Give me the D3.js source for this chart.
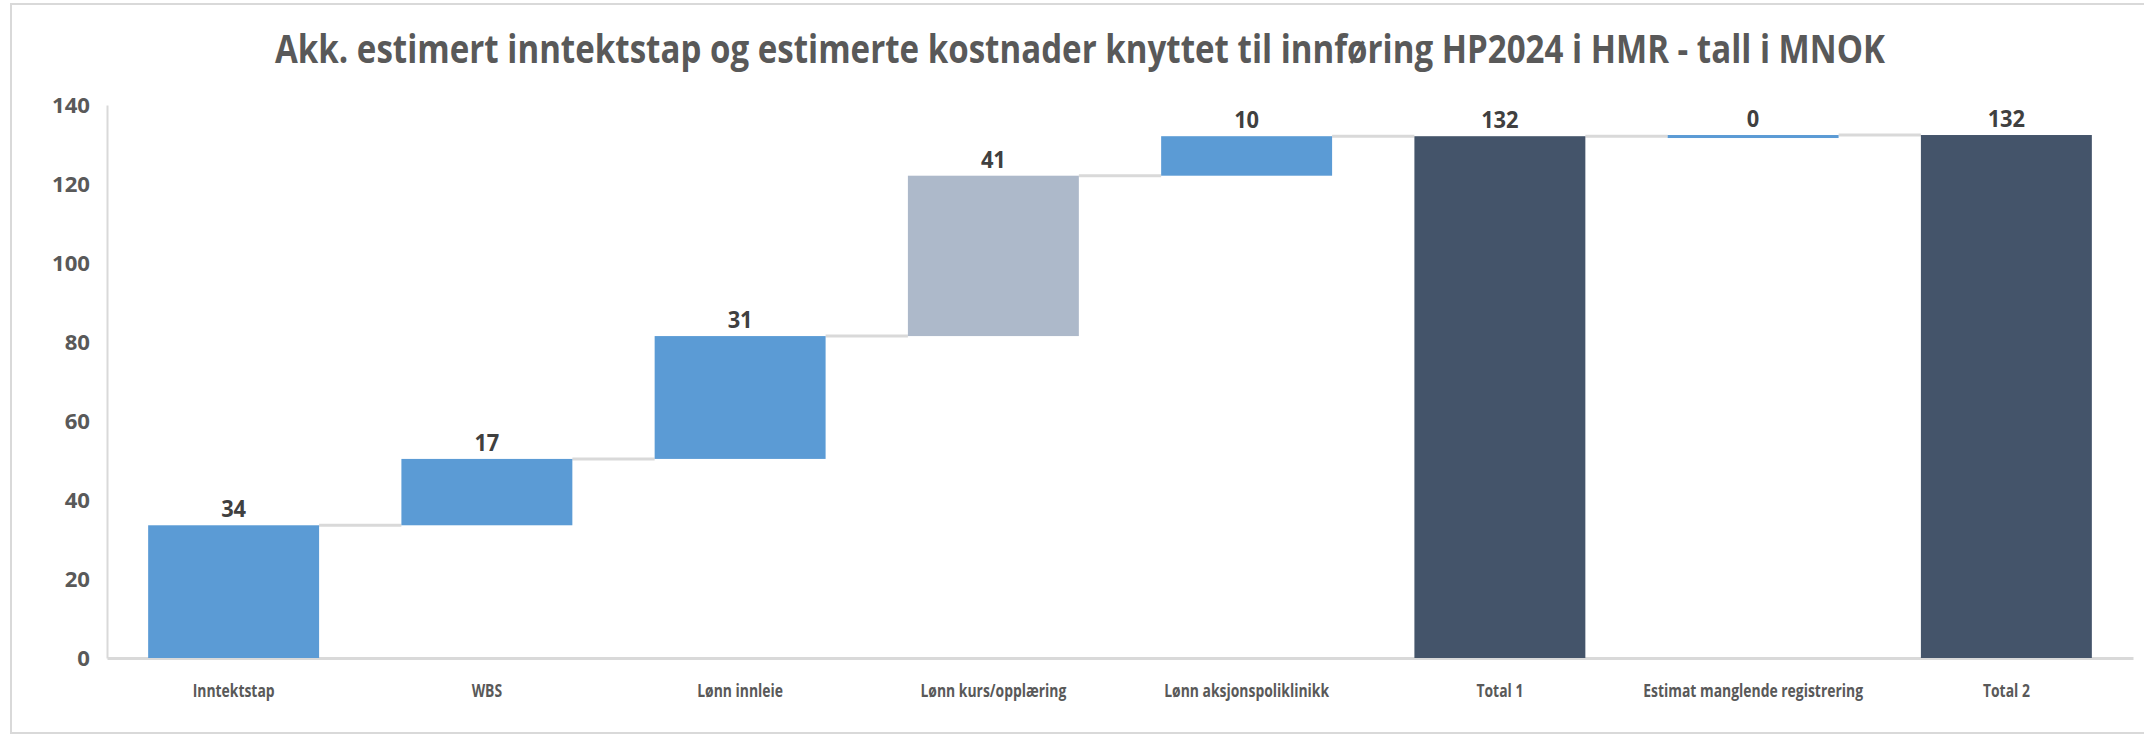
<html>
<head>
<meta charset="utf-8">
<script src="https://cdn.jsdelivr.net/npm/d3@7"></script>
<style>
  body { margin: 0; background: #fff; font-family: "Open Sans", sans-serif; }
  svg { display: block; }
</style>
</head>
<body>
<svg id="chart"></svg>
<script>
// data (MNOK)
let categories = ["Inntektstap", "WBS", "Lønn innleie", "Lønn kurs/opplæring",
                  "Lønn aksjonspoliklinikk", "Total 1", "Estimat manglende registrering", "Total 2"]
let values = [33.6, 16.8, 31.1, 40.6, 10.0, 132.1, 0.3, 132.4]
// step = floating bar, total = bar from zero
let kinds = ["step", "step", "step", "step", "step", "total", "step", "total"]
let colors = ["#5B9BD5", "#5B9BD5", "#5B9BD5", "#ADB9CA", "#5B9BD5", "#44546A", "#5B9BD5", "#44546A"]
let yTicks = [0, 20, 40, 60, 80, 100, 120, 140]
let title = "Akk. estimert inntektstap og estimerte kostnader knyttet til innføring HP2024 i HMR - tall i MNOK"

let width = 2144, height = 735
let margin = { top: 105, bottom: 77, left: 107, right: 11 }

let svg = d3.select("#chart").attr("width", width).attr("height", height)

// outer chart border
svg.append("rect")
  .attr("x", 11).attr("y", 4)
  .attr("width", width + 20).attr("height", 729)
  .attr("fill", "none").attr("stroke", "#D9D9D9").attr("stroke-width", 2)

// build waterfall rows
let running = 0
let rows = categories.map((c, i) => {
  let v = values[i]
  let base, end
  if (kinds[i] == "total") { base = 0; end = v; running = v }
  else { base = running; end = running + v; running = end }
  return { name: c, value: v, base: base, end: end, color: colors[i] }
})

let x = d3.scaleBand()
  .domain(categories)
  .range([margin.left, width - margin.right])
  .paddingInner(0.325)
  .paddingOuter(0.1625)

let y = d3.scaleLinear()
  .domain([0, 140])
  .range([height - margin.bottom, margin.top])

// squeeze text horizontally so it looks like the narrow original font
function squeeze(sel, factor) {
  sel.each(function() {
    let len = this.getComputedTextLength()
    d3.select(this).attr("textLength", len * factor).attr("lengthAdjust", "spacingAndGlyphs")
  })
}
function measure(str, size) {
  let t = svg.append("text").attr("font-family", "Open Sans")
    .attr("font-size", size).attr("font-weight", 700).text(str)
  let w = t.node().getComputedTextLength()
  t.remove()
  return w
}

// axes
let axisY = d3.axisLeft(y).tickValues(yTicks).tickSize(0).tickPadding(17)
let gy = svg.append("g").attr("transform", `translate(${margin.left},0)`).call(axisY)
gy.select(".domain").attr("stroke", "#D9D9D9").attr("stroke-width", 2)
gy.selectAll("text")
  .attr("font-family", "Open Sans").attr("font-size", 22).attr("font-weight", 700)
  .attr("fill", "#595959")
squeeze(gy.selectAll("text"), 38 / measure("140", 22))

let axisX = d3.axisBottom(x).tickSize(0).tickPadding(27)
let gx = svg.append("g").attr("transform", `translate(0,${y(0)})`).call(axisX)
gx.select(".domain").attr("stroke", "#D9D9D9").attr("stroke-width", 3)
gx.selectAll("text")
  .attr("font-family", "Open Sans").attr("font-size", 17).attr("font-weight", 700)
  .attr("fill", "#595959")
squeeze(gx.selectAll("text"), 82 / measure("Inntektstap", 17))

// connectors between bars
svg.append("g").selectAll("line")
  .data(rows.slice(0, -1))
  .enter().append("line")
  .attr("x1", (d) => x(d.name) + x.bandwidth())
  .attr("x2", (d, i) => x(rows[i + 1].name))
  .attr("y1", (d) => y(d.end))
  .attr("y2", (d) => y(d.end))
  .attr("stroke", "#D9D9D9").attr("stroke-width", 3)

// bars
svg.append("g").selectAll("rect")
  .data(rows)
  .enter().append("rect")
  .attr("x", (d) => x(d.name))
  .attr("width", x.bandwidth())
  .attr("y", (d) => y(Math.max(d.base, d.end)))
  .attr("height", (d) => Math.max(3, Math.abs(y(d.base) - y(d.end))))
  .attr("fill", (d) => d.color)

// value labels
let labels = svg.append("g").selectAll("text")
  .data(rows)
  .enter().append("text")
  .attr("x", (d) => x(d.name) + x.bandwidth() / 2)
  .attr("y", (d) => y(Math.max(d.base, d.end)) - 8)
  .attr("text-anchor", "middle")
  .attr("font-family", "Open Sans").attr("font-size", 24).attr("font-weight", 700)
  .attr("fill", "#404040")
  .text((d) => Math.round(d.value))
squeeze(labels, 25 / measure("31", 24))

// title
let t = svg.append("text")
  .attr("x", 1080).attr("y", 63)
  .attr("text-anchor", "middle")
  .attr("font-family", "Open Sans").attr("font-size", 39).attr("font-weight", 700)
  .attr("fill", "#595959")
  .text(title)
squeeze(t, 1610 / measure(title, 39))
</script>
</body>
</html>
